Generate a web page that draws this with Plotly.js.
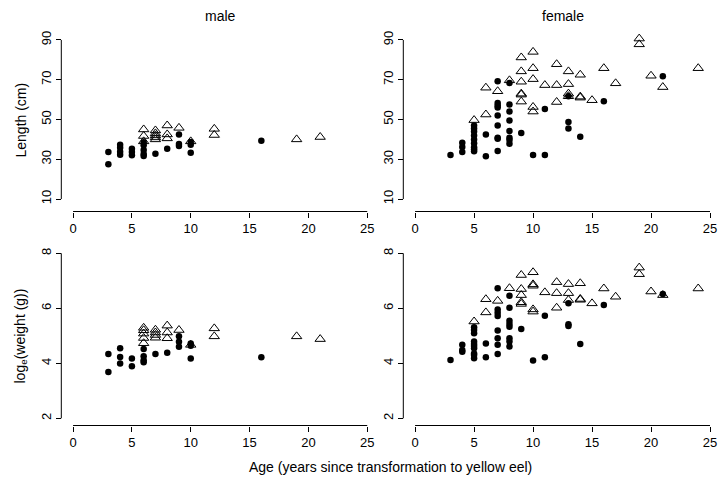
<!DOCTYPE html>
<html>
<head>
<meta charset="utf-8">
<script src="https://cdn.plot.ly/plotly-3.0.1.min.js"></script>
<style>html,body{margin:0;padding:0;background:#fff;}#chart{width:718px;height:479px;}</style>
</head>
<body>
<div id="chart"></div>
<script>
// ---------- DATA ----------
const panelTitles = ["male", "female"];
const xTicks = [0, 5, 10, 15, 20, 25];
const lenTicks = [10, 30, 50, 70, 90];
const wtTicks = [2, 4, 6, 8];

// Male, length (cm): filled dots and open triangles
const maleLenDotAge = [3,3,4,4,4,4,5,5,5,6,6,6,6,6,7,8,9,9,9,10,10,10,16];
const maleLenDotVal = [33.7,27.5,37.3,35.8,33.8,32.3,35.3,33.7,32,38.5,37,34.7,32.7,31.7,32.8,35.3,42.5,37.7,36.7,38.7,37.3,33.3,39.3];
const maleLenTriAge = [6,6,6,7,7,7,7,7,8,8,8,9,10,12,12,19,21];
const maleLenTriVal = [45,41.7,39,44.5,43,42,41,40,47,42.5,40.5,45.8,39,45.3,42.2,40,41.2];

// Male, log weight
const maleWtDotAge = [3,3,4,4,4,5,5,6,6,6,6,7,8,9,9,9,10,10,10,16];
const maleWtDotVal = [4.34,3.68,4.55,4.23,3.99,4.17,3.89,4.52,4.26,4.11,4.04,4.34,4.38,4.98,4.78,4.6,4.72,4.64,4.17,4.22];
const maleWtTriAge = [6,6,6,6,6,7,7,7,7,8,8,8,9,10,12,12,19,21];
const maleWtTriVal = [5.29,5.2,5.08,4.92,4.73,5.22,5.12,5.03,4.93,5.37,5.12,4.91,5.21,4.67,5.27,4.98,4.98,4.88];

// Female, length (cm)
const femLenDotAge = [3,4,4,4,5,5,5,5,5,5,5,5,5,6,6,7,7,7,7,7,7,7,7,7,8,8,8,8,8,8,8,8,9,10,11,11,13,13,13,14,16,21];
const femLenDotVal = [32.2,38.3,36.2,33.7,47,45.5,44,42,40,38,36,35,34,42.5,31.5,69.2,58.3,57,56,52,47,40.8,40.3,34.2,68.3,57.5,54,49.5,44.2,40.8,39.7,37.8,43.2,32.2,55.3,32.2,61.7,48.7,45.5,41.3,59.2,71.7];
const femLenTriAge = [5,6,6,7,8,9,9,9,9,9,9,10,10,10,10,10,11,12,12,12,13,13,13,13,14,14,14,15,16,17,19,19,20,21,24];
const femLenTriVal = [49.7,66,52.5,64.2,69.7,81.2,74.2,69,63,62.5,59,84,75.8,70.3,56.3,54,67.3,77.8,67.3,58.8,74.2,67.8,63,61.7,72.5,61.5,61,59.7,75.8,68.2,90.7,87.8,72,66.3,75.8];

// Female, log weight
const femWtDotAge = [3,4,4,4,5,5,5,5,5,5,5,5,5,5,6,6,7,7,7,7,7,7,7,7,8,8,8,8,8,8,8,8,9,10,11,11,13,13,13,14,16,21];
const femWtDotVal = [4.12,4.67,4.48,4.42,5.31,5.21,5.09,4.79,4.7,4.63,4.55,4.36,4.3,4.18,4.72,4.22,6.73,5.96,5.84,5.72,5.19,4.91,4.67,4.34,6.46,6.02,5.55,5.43,5.33,4.91,4.79,4.61,5.25,4.1,5.73,4.22,6.18,5.42,5.36,4.7,6.12,6.52];
const femWtTriAge = [5,6,6,7,8,9,9,9,9,9,10,10,10,10,10,11,12,12,12,13,13,13,14,14,14,15,16,17,19,19,20,21,24];
const femWtTriVal = [5.52,6.33,5.85,6.27,6.73,7.21,6.7,6.48,6.22,6.16,7.31,6.87,6.82,5.96,5.88,6.58,6.95,6.55,6.02,6.88,6.55,6.3,6.91,6.34,6.31,6.18,6.72,6.42,7.48,7.24,6.61,6.48,6.72];

// ---------- LAYOUT HELPERS ----------
const W = 718, H = 479;
const px = v => v / W;
const py = v => 1 - v / H;
const FONT = "Liberation Sans, Arial, Helvetica, sans-serif";

const dotStyle = {symbol: "circle", size: 6.5, color: "#000", line: {width: 0}};
const triStyle = {symbol: "triangle-up-open", size: 9, color: "#000", line: {width: 1, color: "#000"}};

function dots(x, y, xa, ya) {
  return {x: x, y: y, xaxis: xa, yaxis: ya, type: "scatter", mode: "markers", marker: dotStyle, hoverinfo: "x+y", showlegend: false};
}
function tris(x, y, xa, ya) {
  return {x: x, y: y, xaxis: xa, yaxis: ya, type: "scatter", mode: "markers", marker: triStyle, hoverinfo: "x+y", showlegend: false};
}

const data = [
  tris(maleLenTriAge, maleLenTriVal, "x", "y"),
  dots(maleLenDotAge, maleLenDotVal, "x", "y"),
  tris(femLenTriAge, femLenTriVal, "x2", "y2"),
  dots(femLenDotAge, femLenDotVal, "x2", "y2"),
  tris(maleWtTriAge, maleWtTriVal, "x3", "y3"),
  dots(maleWtDotAge, maleWtDotVal, "x3", "y3"),
  tris(femWtTriAge, femWtTriVal, "x4", "y4"),
  dots(femWtDotAge, femWtDotVal, "x4", "y4")
];

const tickFont = {family: FONT, size: 13, color: "#000"};

// pixel geometry
const leftDom = [px(61.3), px(379)];
const rightDom = [px(403.3), 1];
const leftRange = [-1, 26];
const rightRange = [-1, (718 - 415) / 11.8];
const topDom = [py(205.4), py(33.6)];
const botDom = [py(424.9), py(246.7)];
const topRange = [6.8, 93.2];
const botRange = [1.76, 8.24];
const xPosTop = py(211.5);
const xPosBot = py(425.5);
const yPosLeft = px(61.3);
const yPosRight = px(403.3);

function xax(dom, rng, pos) {
  return {domain: dom, range: rng, anchor: "free", position: pos, tickvals: xTicks, ticktext: xTicks.map(String),
    ticks: "outside", ticklen: 5, tickwidth: 1, tickcolor: "#000", showline: false, showgrid: false, zeroline: false,
    tickfont: tickFont, fixedrange: true};
}
function yax(dom, rng, pos, tv) {
  return {domain: dom, range: rng, anchor: "free", position: pos, tickvals: tv, ticktext: tv.map(String),
    ticks: "outside", ticklen: 5, tickwidth: 1, tickcolor: "#000", showline: false, showgrid: false, zeroline: false,
    tickfont: tickFont, tickangle: -90, fixedrange: true};
}

const shapes = [];
function xline(xref, pos) {
  shapes.push({type: "line", xref: xref, yref: "paper", x0: xTicks[0], x1: xTicks[xTicks.length - 1], y0: pos, y1: pos, line: {color: "#000", width: 1}});
}
function yline(yref, pos, tv) {
  shapes.push({type: "line", xref: "paper", yref: yref, x0: pos, x1: pos, y0: tv[0], y1: tv[tv.length - 1], line: {color: "#000", width: 1}});
}
xline("x", xPosTop); xline("x2", xPosTop); xline("x3", xPosBot); xline("x4", xPosBot);
yline("y", yPosLeft, lenTicks); yline("y2", yPosRight, lenTicks);
yline("y3", yPosLeft, wtTicks); yline("y4", yPosRight, wtTicks);

const annFont = {family: FONT, size: 14, color: "#000"};
const annotations = [
  {text: panelTitles[0], x: px(220.3), y: py(16), xref: "paper", yref: "paper", showarrow: false, font: annFont, xanchor: "center", yanchor: "middle"},
  {text: panelTitles[1], x: px(562.5), y: py(16), xref: "paper", yref: "paper", showarrow: false, font: annFont, xanchor: "center", yanchor: "middle"},
  {text: "Length (cm)", x: px(20.5), y: py(120), xref: "paper", yref: "paper", showarrow: false, font: annFont, textangle: -90, xanchor: "center", yanchor: "middle"},
  {text: "log<sub>e</sub>(weight (g))", x: px(20.5), y: py(336), xref: "paper", yref: "paper", showarrow: false, font: annFont, textangle: -90, xanchor: "center", yanchor: "middle"},
  {text: "Age (years since transformation to yellow eel)", x: px(390), y: py(467), xref: "paper", yref: "paper", showarrow: false, font: annFont, xanchor: "center", yanchor: "middle"}
];

const layout = {
  width: W, height: H,
  margin: {l: 0, r: 0, t: 0, b: 0, pad: 0},
  paper_bgcolor: "#fff", plot_bgcolor: "rgba(0,0,0,0)",
  font: {family: FONT, color: "#000"},
  showlegend: false,
  xaxis: xax(leftDom, leftRange, xPosTop),
  yaxis: yax(topDom, topRange, yPosLeft, lenTicks),
  xaxis2: xax(rightDom, rightRange, xPosTop),
  yaxis2: yax(topDom, topRange, yPosRight, lenTicks),
  xaxis3: xax(leftDom, leftRange, xPosBot),
  yaxis3: yax(botDom, botRange, yPosLeft, wtTicks),
  xaxis4: xax(rightDom, rightRange, xPosBot),
  yaxis4: yax(botDom, botRange, yPosRight, wtTicks),
  shapes: shapes,
  annotations: annotations
};

Plotly.newPlot("chart", data, layout, {displayModeBar: false, staticPlot: true});
</script>
</body>
</html>
